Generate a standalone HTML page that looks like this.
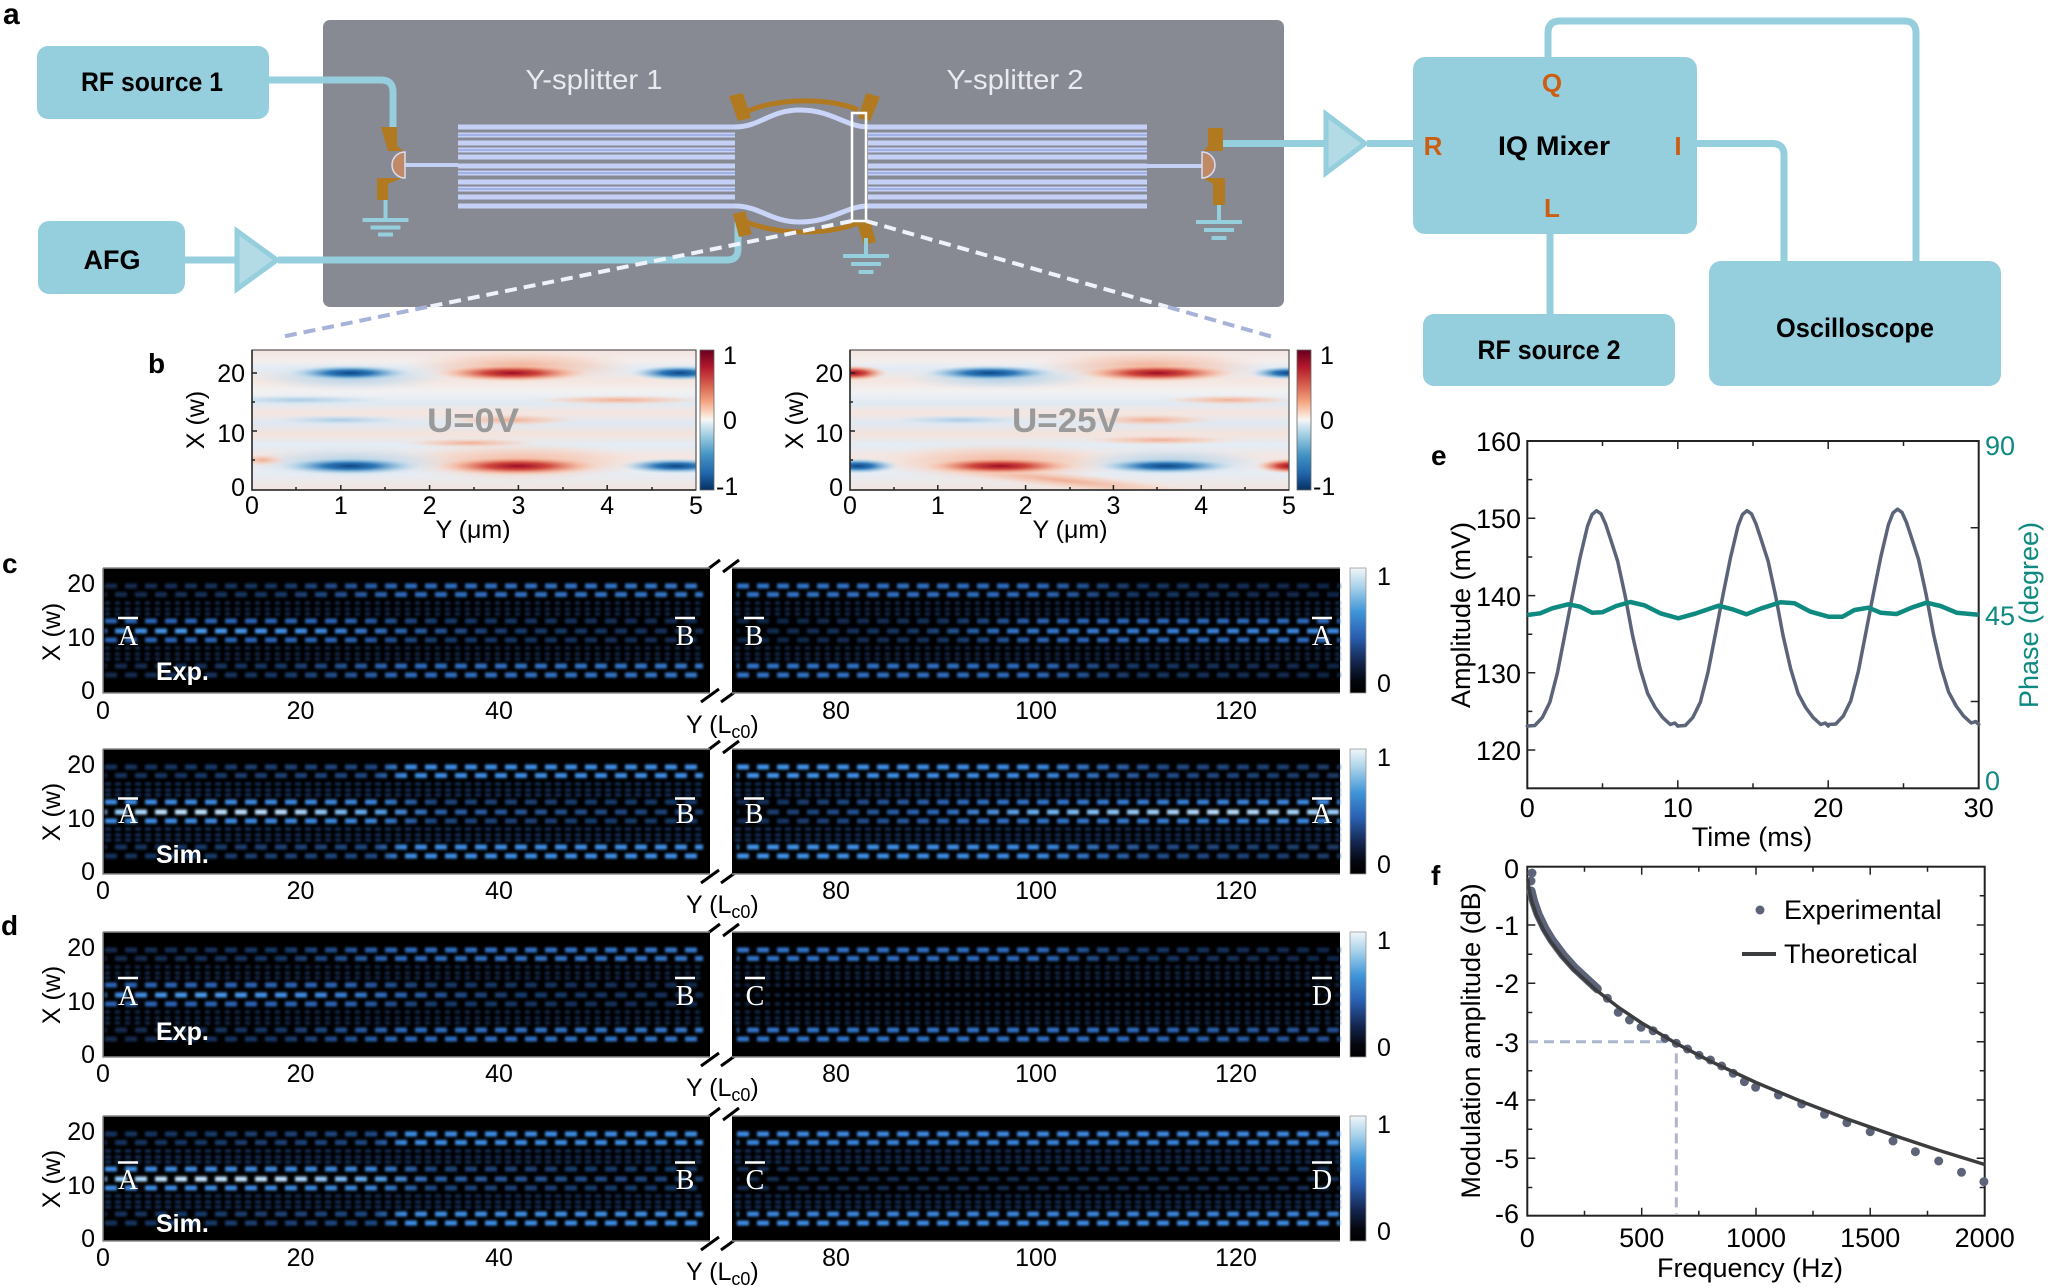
<!DOCTYPE html>
<html><head><meta charset="utf-8"><style>
html,body{margin:0;padding:0;background:#fff;overflow:hidden}
svg{display:block}
text{font-family:"Liberation Sans",sans-serif}
.ser text{font-family:"Liberation Serif",serif}
</style></head><body>
<svg xmlns="http://www.w3.org/2000/svg" xmlns:xlink="http://www.w3.org/1999/xlink" width="2048" height="1288" viewBox="0 0 2048 1288">
<defs>
<filter id="bl" x="-2%" y="-20%" width="104%" height="140%"><feGaussianBlur stdDeviation="1.3"/></filter>
<radialGradient id="rB"><stop offset="0" stop-color="#0d4587"/><stop offset="0.35" stop-color="#2f79b8"/><stop offset="0.7" stop-color="#9cc6e2" stop-opacity="0.7"/><stop offset="1" stop-color="#dbe8f3" stop-opacity="0"/></radialGradient>
<radialGradient id="rR"><stop offset="0" stop-color="#9e0a24"/><stop offset="0.35" stop-color="#d0493e"/><stop offset="0.7" stop-color="#f3b095" stop-opacity="0.7"/><stop offset="1" stop-color="#f8e0d5" stop-opacity="0"/></radialGradient>
<radialGradient id="rRl"><stop offset="0" stop-color="#f2ad92"/><stop offset="0.6" stop-color="#f6cdbb" stop-opacity="0.6"/><stop offset="1" stop-color="#f8e0d5" stop-opacity="0"/></radialGradient>
<radialGradient id="rBl"><stop offset="0" stop-color="#a9cbe5"/><stop offset="0.6" stop-color="#c9dded" stop-opacity="0.6"/><stop offset="1" stop-color="#dbe8f3" stop-opacity="0"/></radialGradient>
<linearGradient id="bgb" x1="0" y1="0" x2="0" y2="1">
<stop offset="0" stop-color="#f5e4de"/><stop offset="0.08" stop-color="#f3eeee"/><stop offset="0.13" stop-color="#e2ebf4"/><stop offset="0.22" stop-color="#f5e6e0"/><stop offset="0.3" stop-color="#f1f1f3"/><stop offset="0.38" stop-color="#e0eaf3"/><stop offset="0.45" stop-color="#f6e5df"/><stop offset="0.52" stop-color="#dfe9f3"/><stop offset="0.6" stop-color="#f5e3dc"/><stop offset="0.68" stop-color="#e3ecf5"/><stop offset="0.76" stop-color="#f4e6e1"/><stop offset="0.88" stop-color="#e6edf5"/><stop offset="1" stop-color="#f3e4de"/>
</linearGradient>
<linearGradient id="cbRB" x1="0" y1="0" x2="0" y2="1">
<stop offset="0" stop-color="#67001f"/><stop offset="0.12" stop-color="#b2182b"/><stop offset="0.25" stop-color="#d6604d"/><stop offset="0.37" stop-color="#f4a582"/><stop offset="0.47" stop-color="#fbe5d8"/><stop offset="0.5" stop-color="#f7f7f7"/><stop offset="0.53" stop-color="#dbeaf2"/><stop offset="0.63" stop-color="#92c5de"/><stop offset="0.75" stop-color="#4393c3"/><stop offset="0.88" stop-color="#2166ac"/><stop offset="1" stop-color="#053061"/>
</linearGradient>
<linearGradient id="cbBK" x1="0" y1="0" x2="0" y2="1">
<stop offset="0" stop-color="#f0f6f8"/><stop offset="0.15" stop-color="#a9d2ea"/><stop offset="0.35" stop-color="#3f95d8"/><stop offset="0.55" stop-color="#2a5fb0"/><stop offset="0.75" stop-color="#14264f"/><stop offset="0.9" stop-color="#05070f"/><stop offset="1" stop-color="#000"/>
</linearGradient>
<linearGradient id="gLc" gradientUnits="userSpaceOnUse" x1="105" y1="0" x2="703" y2="0"><stop offset="0" stop-color="#3a86dc"/><stop offset="0.15" stop-color="#4c9cf0"/><stop offset="0.35" stop-color="#3f8ce6"/><stop offset="0.5" stop-color="#2a63b0"/><stop offset="0.65" stop-color="#1a3f73"/><stop offset="1" stop-color="#142f58"/></linearGradient>
<linearGradient id="gLs" gradientUnits="userSpaceOnUse" x1="105" y1="0" x2="703" y2="0"><stop offset="0" stop-color="#2a64b5"/><stop offset="0.4" stop-color="#2a64b5"/><stop offset="0.55" stop-color="#193c6e"/><stop offset="1" stop-color="#112a50"/></linearGradient>
<linearGradient id="gLo" gradientUnits="userSpaceOnUse" x1="105" y1="0" x2="703" y2="0"><stop offset="0" stop-color="#12294d"/><stop offset="0.3" stop-color="#183a6a"/><stop offset="0.5" stop-color="#2e6cc0"/><stop offset="1" stop-color="#3579cc"/></linearGradient>
<linearGradient id="sLc" gradientUnits="userSpaceOnUse" x1="105" y1="0" x2="703" y2="0"><stop offset="0" stop-color="#8cc8ff"/><stop offset="0.1" stop-color="#c5e6ff"/><stop offset="0.3" stop-color="#bde0ff"/><stop offset="0.45" stop-color="#5aa6f0"/><stop offset="0.55" stop-color="#2c63ad"/><stop offset="1" stop-color="#1c3f73"/></linearGradient>
<linearGradient id="sLs" gradientUnits="userSpaceOnUse" x1="105" y1="0" x2="703" y2="0"><stop offset="0" stop-color="#3f8de6"/><stop offset="0.45" stop-color="#3a86dc"/><stop offset="0.55" stop-color="#1d4780"/><stop offset="1" stop-color="#163866"/></linearGradient>
<linearGradient id="sLo" gradientUnits="userSpaceOnUse" x1="105" y1="0" x2="703" y2="0"><stop offset="0" stop-color="#16325c"/><stop offset="0.45" stop-color="#1e4a86"/><stop offset="0.5" stop-color="#3e8ee6"/><stop offset="1" stop-color="#3f8fe8"/></linearGradient>
<linearGradient id="gRo" gradientUnits="userSpaceOnUse" x1="735" y1="0" x2="1340" y2="0"><stop offset="0" stop-color="#3476cc"/><stop offset="0.5" stop-color="#2e6cc0"/><stop offset="0.65" stop-color="#193a6a"/><stop offset="1" stop-color="#10264a"/></linearGradient>
<linearGradient id="gRc" gradientUnits="userSpaceOnUse" x1="735" y1="0" x2="1340" y2="0"><stop offset="0" stop-color="#10264a"/><stop offset="0.3" stop-color="#183a6a"/><stop offset="0.45" stop-color="#3176cc"/><stop offset="1" stop-color="#3f8ce6"/></linearGradient>
<linearGradient id="gRs" gradientUnits="userSpaceOnUse" x1="735" y1="0" x2="1340" y2="0"><stop offset="0" stop-color="#0f2444"/><stop offset="0.35" stop-color="#16345f"/><stop offset="0.5" stop-color="#2a64b5"/><stop offset="1" stop-color="#2e6cc0"/></linearGradient>
<linearGradient id="gRu" gradientUnits="userSpaceOnUse" x1="735" y1="0" x2="1340" y2="0"><stop offset="0" stop-color="#3476cc"/><stop offset="0.6" stop-color="#3070c4"/><stop offset="1" stop-color="#244f90"/></linearGradient>
<linearGradient id="sRo" gradientUnits="userSpaceOnUse" x1="735" y1="0" x2="1340" y2="0"><stop offset="0" stop-color="#4496ee"/><stop offset="0.5" stop-color="#3d8ce6"/><stop offset="0.7" stop-color="#234f8f"/><stop offset="1" stop-color="#1a3a66"/></linearGradient>
<linearGradient id="sRc" gradientUnits="userSpaceOnUse" x1="735" y1="0" x2="1340" y2="0"><stop offset="0" stop-color="#16325c"/><stop offset="0.35" stop-color="#2e6cc0"/><stop offset="0.5" stop-color="#6fb6fa"/><stop offset="0.8" stop-color="#c0e2ff"/><stop offset="1" stop-color="#9fd2ff"/></linearGradient>
<linearGradient id="sRs" gradientUnits="userSpaceOnUse" x1="735" y1="0" x2="1340" y2="0"><stop offset="0" stop-color="#12294d"/><stop offset="0.4" stop-color="#2f6ec4"/><stop offset="1" stop-color="#3f8ce6"/></linearGradient>
<clipPath id="cpL"><rect x="252" y="350" width="444" height="140"/></clipPath>
<clipPath id="cpR"><rect x="850" y="350" width="439" height="140"/></clipPath>
</defs>

<rect width="2048" height="1288" fill="#fff"/>

<!-- ================= PANEL A ================= -->
<text x="3" y="24" font-size="30" font-weight="bold">a</text>
<rect x="323" y="20" width="961" height="287" rx="7" fill="#878a92"/>
<g fill="#95cedd">
<rect x="37" y="46" width="232" height="73" rx="11"/>
<rect x="38" y="221" width="147" height="73" rx="11"/>
<rect x="1413" y="57" width="284" height="177" rx="12"/>
<rect x="1423" y="314" width="252" height="72" rx="11"/>
<rect x="1709" y="261" width="292" height="125" rx="12"/>
</g>
<g font-weight="bold" font-size="27" fill="#000" text-anchor="middle">
<text x="152" y="91" textLength="142" lengthAdjust="spacingAndGlyphs">RF source 1</text>
<text x="112" y="269">AFG</text>
<text x="1554" y="155" textLength="112" lengthAdjust="spacingAndGlyphs">IQ Mixer</text>
<text x="1549" y="359" textLength="143" lengthAdjust="spacingAndGlyphs">RF source 2</text>
<text x="1855" y="337" textLength="158" lengthAdjust="spacingAndGlyphs">Oscilloscope</text>
</g>
<g font-weight="bold" font-size="26" fill="#cc5e14" text-anchor="middle">
<text x="1552" y="92">Q</text>
<text x="1433" y="155">R</text>
<text x="1678" y="155">I</text>
<text x="1552" y="217">L</text>
</g>
<g fill="none" stroke="#95cedd" stroke-width="7">
<path d="M269,80 H381 Q393,80 393,92 V135"/>
<path d="M185,260 H236"/>
<path d="M278,260 H727 Q738,260 738,249 V222"/>
<path d="M1222,143.5 H1325"/>
<path d="M1367,143.5 H1414"/>
<path d="M1548,57 V33 Q1548,21 1560,21 H1904 Q1916,21 1916,33 V261"/>
<path d="M1697,143.5 H1772 Q1784,143.5 1784,155 V261"/>
<path d="M1550,234 V314"/>
</g>
<polygon points="237,231 237,289 277,260" fill="#b3dbe6" stroke="#95cedd" stroke-width="5"/>
<polygon points="1326,114 1326,173 1365,143.5" fill="#b3dbe6" stroke="#95cedd" stroke-width="5"/>
<g font-size="28" fill="#e9ebf0" text-anchor="middle">
<text x="594" y="89" textLength="137" lengthAdjust="spacingAndGlyphs">Y-splitter 1</text>
<text x="1015" y="89" textLength="137" lengthAdjust="spacingAndGlyphs">Y-splitter 2</text>
</g>
<g stroke="#c4d0f6" stroke-width="5" fill="none">
<path d="M458,127 H735 M458,135 H735 M458,143 H735 M458,150 H735 M458,157 H735 M458,166 H735 M458,173 H735 M458,182 H735 M458,189 H735 M458,197 H735 M458,206 H735"/>
<path d="M868,127 H1147 M868,135 H1147 M868,143 H1147 M868,150 H1147 M868,157 H1147 M868,166 H1147 M868,173 H1147 M868,182 H1147 M868,189 H1147 M868,197 H1147 M868,206 H1147"/>
<path d="M400,165 H458 M1147,166 H1205" stroke-width="4"/>
</g>
<g stroke="#7f92d8" stroke-width="1.3" fill="none" opacity="0.8">
<path d="M458,135 H735 M458,150 H735 M458,173 H735 M458,189 H735 M868,135 H1147 M868,150 H1147 M868,173 H1147 M868,189 H1147"/>
</g>
<g fill="none" stroke="#b27a20" stroke-width="5">
<path d="M746,112 C775,98 830,97 858,110"/>
<path d="M744,221 C775,235 830,236 860,222"/>
</g>
<g fill="#b27a20">
<polygon points="729,96 743,93 751,118 738,121"/>
<polygon points="858,118 866,93 880,97 870,121"/>
<polygon points="733,214 745,211 752,234 739,237"/>
<polygon points="857,224 870,220 876,242 864,245"/>
</g>
<g fill="none" stroke="#c9d4f8" stroke-width="5">
<path d="M735,127 C760,127 770,110 800,110 C832,110 846,127 868,127"/>
<path d="M735,206 C760,206 770,222 800,222 C832,222 846,206 868,206"/>
</g>
<rect x="852" y="113" width="14" height="108" fill="none" stroke="#fff" stroke-width="2.5"/>
<g fill="#b27a20">
<path d="M381,127 H397 V146 L404,151 H388 Z"/>
<path d="M377,178 H402 L388,184 V200 H377 Z"/>
<path d="M1208,128 H1223 V151 H1203 L1208,146 Z"/>
<path d="M1203,178 H1225 V205 H1213 V184 Z"/>
</g>
<path d="M405,152 A13,13 0 0,0 405,178 Z" fill="#c08a66" stroke="#dcdcf2" stroke-width="1.5"/>
<path d="M1202,152 A13,13 0 0,1 1202,178 Z" fill="#c08a66" stroke="#dcdcf2" stroke-width="1.5"/>
<g stroke="#95cedd" stroke-width="4" fill="none">
<path d="M385.5,200 V220 M362.5,220 H408.5 M370.5,227.5 H400.5 M378,234.5 H393"/>
<path d="M866,238 V256 M843,256 H889 M851,264 H881 M858.5,272 H873.5"/>
<path d="M1219,205 V222 M1196,222 H1242 M1204,230 H1234 M1211.5,238 H1226.5"/>
</g>
<g fill="none" stroke-width="4" stroke-dasharray="12 7">
<path d="M852,221 L427,307" stroke="#eef2fb"/>
<path d="M866,221 L1168,307" stroke="#eef2fb"/>
<path d="M427,307 L281,337" stroke="#a6b2d8"/>
<path d="M1168,307 L1273,337" stroke="#a6b2d8"/>
</g>

<!-- ================= PANEL B ================= -->
<text x="148" y="373" font-size="28" font-weight="bold">b</text>
<g clip-path="url(#cpL)">
<rect x="252" y="350" width="444" height="140" fill="url(#bgb)"/>
<ellipse cx="520" cy="366" rx="120" ry="17" fill="url(#rRl)"/>
<ellipse cx="520" cy="462" rx="130" ry="20" fill="url(#rRl)"/>
<ellipse cx="350" cy="462" rx="110" ry="16" fill="url(#rBl)"/>
<ellipse cx="350" cy="377" rx="100" ry="14" fill="url(#rBl)"/>
<ellipse cx="510" cy="420" rx="70" ry="6" fill="url(#rRl)"/>
<ellipse cx="340" cy="420" rx="70" ry="5" fill="url(#rBl)"/>
<ellipse cx="470" cy="443" rx="70" ry="5" fill="url(#rRl)"/>
<ellipse cx="300" cy="400" rx="90" ry="5" fill="url(#rBl)"/>
<ellipse cx="620" cy="400" rx="90" ry="5" fill="url(#rRl)"/>
<ellipse cx="350" cy="373" rx="64" ry="8" fill="url(#rB)"/>
<ellipse cx="512" cy="373" rx="80" ry="9" fill="url(#rR)"/>
<ellipse cx="680" cy="373" rx="52" ry="8" fill="url(#rB)"/>
<ellipse cx="350" cy="466" rx="74" ry="9" fill="url(#rB)"/>
<ellipse cx="518" cy="466" rx="88" ry="10" fill="url(#rR)"/>
<ellipse cx="676" cy="466" rx="58" ry="8" fill="url(#rB)"/>
<ellipse cx="262" cy="460" rx="25" ry="6" fill="url(#rRl)"/>
</g>
<g clip-path="url(#cpR)">
<rect x="850" y="350" width="439" height="140" fill="url(#bgb)"/>
<ellipse cx="1150" cy="366" rx="120" ry="17" fill="url(#rRl)"/>
<ellipse cx="1000" cy="462" rx="130" ry="20" fill="url(#rRl)"/>
<ellipse cx="1170" cy="462" rx="100" ry="15" fill="url(#rBl)"/>
<ellipse cx="1000" cy="378" rx="100" ry="12" fill="url(#rBl)"/>
<ellipse cx="1150" cy="420" rx="70" ry="6" fill="url(#rRl)"/>
<ellipse cx="960" cy="420" rx="70" ry="5" fill="url(#rBl)"/>
<ellipse cx="1160" cy="440" rx="80" ry="5" fill="url(#rRl)"/>
<ellipse cx="1060" cy="480" rx="170" ry="9" fill="url(#rRl)" transform="rotate(6 1060 480)"/>
<ellipse cx="1230" cy="400" rx="70" ry="5" fill="url(#rRl)"/>
<ellipse cx="853" cy="373" rx="36" ry="8" fill="url(#rR)"/>
<ellipse cx="990" cy="373" rx="70" ry="8" fill="url(#rB)"/>
<ellipse cx="1157" cy="373" rx="82" ry="9" fill="url(#rR)"/>
<ellipse cx="1288" cy="373" rx="40" ry="7" fill="url(#rB)"/>
<ellipse cx="858" cy="466" rx="42" ry="8" fill="url(#rB)"/>
<ellipse cx="1000" cy="466" rx="82" ry="9" fill="url(#rR)"/>
<ellipse cx="1166" cy="466" rx="72" ry="8" fill="url(#rB)"/>
<ellipse cx="1290" cy="466" rx="36" ry="8" fill="url(#rR)"/>
</g>
<g fill="none" stroke="#555" stroke-width="1.2">
<rect x="252" y="350" width="444" height="140"/>
<rect x="850" y="350" width="439" height="140"/>
</g>
<g stroke="#222" stroke-width="1.5" fill="none">
<path d="M252,350 V490 H696"/>
<path d="M850,350 V490 H1289"/>
<path d="M340.8,490 v-5 M429.6,490 v-5 M518.4,490 v-5 M607.2,490 v-5 M296,490 v-3 M385,490 v-3 M474,490 v-3 M563,490 v-3 M652,490 v-3"/>
<path d="M937.8,490 v-5 M1025.6,490 v-5 M1113.4,490 v-5 M1201.2,490 v-5 M894,490 v-3 M982,490 v-3 M1070,490 v-3 M1157,490 v-3 M1245,490 v-3"/>
<path d="M252,373 h5 M252,431 h5 M252,402 h3 M252,460 h3 M850,373 h5 M850,431 h5 M850,402 h3 M850,460 h3"/>
</g>
<rect x="700" y="350" width="14" height="140" fill="url(#cbRB)" stroke="#666" stroke-width="0.8"/>
<rect x="1297" y="350" width="14" height="140" fill="url(#cbRB)" stroke="#666" stroke-width="0.8"/>
<g font-size="25" fill="#000">
<text x="723" y="364">1</text><text x="723" y="429">0</text><text x="716" y="495">-1</text>
<text x="1320" y="364">1</text><text x="1320" y="429">0</text><text x="1313" y="495">-1</text>
</g>
<g font-size="25" text-anchor="middle">
<text x="252" y="514">0</text><text x="340.8" y="514">1</text><text x="429.6" y="514">2</text><text x="518.4" y="514">3</text><text x="607.2" y="514">4</text><text x="696" y="514">5</text>
<text x="850" y="514">0</text><text x="937.8" y="514">1</text><text x="1025.6" y="514">2</text><text x="1113.4" y="514">3</text><text x="1201.2" y="514">4</text><text x="1289" y="514">5</text>
<text x="473" y="538">Y (μm)</text><text x="1070" y="538">Y (μm)</text>
</g>
<g font-size="25" text-anchor="end">
<text x="245" y="382">20</text><text x="245" y="442">10</text><text x="245" y="496">0</text>
<text x="843" y="382">20</text><text x="843" y="442">10</text><text x="843" y="496">0</text>
</g>
<text transform="translate(204,420) rotate(-90)" font-size="25" text-anchor="middle">X (w)</text>
<text transform="translate(803,420) rotate(-90)" font-size="25" text-anchor="middle">X (w)</text>
<g font-size="34" font-weight="bold" fill="#9a9a9a" text-anchor="middle">
<text x="473" y="432" textLength="92" lengthAdjust="spacingAndGlyphs">U=0V</text>
<text x="1066" y="432" textLength="108" lengthAdjust="spacingAndGlyphs">U=25V</text>
</g>

<!-- ================= PANELS C / D ================= -->
<text x="2" y="573" font-size="28" font-weight="bold">c</text>
<text x="1" y="935" font-size="28" font-weight="bold">d</text>

<g fill="#000">
<rect x="103" y="568" width="607" height="125"/><rect x="732" y="568" width="608" height="125"/>
<rect x="103" y="749" width="607" height="125"/><rect x="732" y="749" width="608" height="125"/>
<rect x="103" y="932" width="607" height="125"/><rect x="732" y="932" width="608" height="125"/>
<rect x="103" y="1116" width="607" height="125"/><rect x="732" y="1116" width="608" height="125"/>
</g>

<!-- c exp -->
<g filter="url(#bl)" stroke-width="5" stroke-dasharray="12 8" fill="none">
<g stroke="#152e54" stroke-width="3" stroke-dasharray="5 5">
<path d="M105,603 H703 M105,609 H703 M105,614 H703 M105,648 H703 M105,654 H703 M105,659 H703"/>
<path d="M735,603 H1340 M735,609 H1340 M735,614 H1340 M735,648 H1340 M735,654 H1340 M735,659 H1340"/>
</g>
<path d="M105,586 H703" stroke="url(#gLo)"/>
<path d="M105,594.5 H703" stroke="url(#gLo)" stroke-dashoffset="10"/>
<path d="M105,621 H703" stroke="url(#gLs)"/>
<path d="M105,631 H703" stroke="url(#gLc)" stroke-dashoffset="10"/>
<path d="M105,640 H703" stroke="url(#gLs)"/>
<path d="M105,666 H703" stroke="url(#gLo)" stroke-dashoffset="10"/>
<path d="M105,675 H703" stroke="url(#gLo)"/>
<path d="M737,586 H1340" stroke="url(#gRo)"/>
<path d="M737,594.5 H1340" stroke="url(#gRo)" stroke-dashoffset="10"/>
<path d="M737,621 H1340" stroke="url(#gRs)"/>
<path d="M737,631 H1340" stroke="url(#gRc)" stroke-dashoffset="10"/>
<path d="M737,640 H1340" stroke="url(#gRs)"/>
<path d="M737,666 H1340" stroke="url(#gRo)" stroke-dashoffset="10"/>
<path d="M737,675 H1340" stroke="url(#gRo)"/>
</g>
<!-- c sim -->
<g filter="url(#bl)" stroke-width="5" stroke-dasharray="12 8" fill="none">
<g stroke="#18335e" stroke-width="3" stroke-dasharray="6 4">
<path d="M105,784 H703 M105,790 H703 M105,795 H703 M105,829 H703 M105,835 H703 M105,840 H703"/>
<path d="M735,784 H1340 M735,790 H1340 M735,795 H1340 M735,829 H1340 M735,835 H1340 M735,840 H1340"/>
</g>
<path d="M105,767 H703" stroke="url(#sLo)"/>
<path d="M105,775.5 H703" stroke="url(#sLo)" stroke-dashoffset="10"/>
<path d="M105,802 H703" stroke="url(#sLs)"/>
<path d="M105,812 H703" stroke="url(#sLc)" stroke-dashoffset="10"/>
<path d="M105,821 H703" stroke="url(#sLs)"/>
<path d="M105,847 H703" stroke="url(#sLo)" stroke-dashoffset="10"/>
<path d="M105,856 H703" stroke="url(#sLo)"/>
<path d="M737,767 H1340" stroke="url(#sRo)"/>
<path d="M737,775.5 H1340" stroke="url(#sRo)" stroke-dashoffset="10"/>
<path d="M737,802 H1340" stroke="url(#sRs)"/>
<path d="M737,812 H1340" stroke="url(#sRc)" stroke-dashoffset="10"/>
<path d="M737,821 H1340" stroke="url(#sRs)"/>
<path d="M737,847 H1340" stroke="url(#sRo)" stroke-dashoffset="10"/>
<path d="M737,856 H1340" stroke="url(#sRo)"/>
</g>
<!-- d exp -->
<g filter="url(#bl)" stroke-width="5" stroke-dasharray="12 8" fill="none">
<g stroke="#152e54" stroke-width="3" stroke-dasharray="5 5">
<path d="M105,967 H703 M105,973 H703 M105,978 H703 M105,1012 H703 M105,1018 H703 M105,1023 H703"/>
<path d="M735,967 H1340 M735,973 H1340 M735,978 H1340 M735,985 H1340 M735,995 H1340 M735,1004 H1340 M735,1012 H1340 M735,1018 H1340 M735,1023 H1340"/>
</g>
<path d="M105,950 H703" stroke="url(#gLo)"/>
<path d="M105,958.5 H703" stroke="url(#gLo)" stroke-dashoffset="10"/>
<path d="M105,985 H703" stroke="url(#gLs)"/>
<path d="M105,995 H703" stroke="url(#gLc)" stroke-dashoffset="10"/>
<path d="M105,1004 H703" stroke="url(#gLs)"/>
<path d="M105,1030 H703" stroke="url(#gLo)" stroke-dashoffset="10"/>
<path d="M105,1039 H703" stroke="url(#gLo)"/>
<path d="M737,950 H1340" stroke="url(#gRo)"/>
<path d="M737,958.5 H1340" stroke="url(#gRo)" stroke-dashoffset="10"/>
<path d="M737,1030 H1340" stroke="url(#gRu)" stroke-dashoffset="10"/>
<path d="M737,1039 H1340" stroke="url(#gRu)"/>
</g>
<!-- d sim -->
<g filter="url(#bl)" stroke-width="5" stroke-dasharray="12 8" fill="none">
<g stroke="#18335e" stroke-width="3" stroke-dasharray="6 4">
<path d="M105,1151 H703 M105,1157 H703 M105,1162 H703 M105,1196 H703 M105,1202 H703 M105,1207 H703"/>
<path d="M735,1151 H1340 M735,1157 H1340 M735,1162 H1340 M735,1196 H1340 M735,1202 H1340 M735,1207 H1340"/>
</g>
<g stroke="#17305a" stroke-width="4"><path d="M737,1169 H1340 M737,1188 H1340"/><path d="M737,1179 H1340" stroke-dashoffset="10"/></g>
<path d="M105,1134 H703" stroke="url(#sLo)"/>
<path d="M105,1142.5 H703" stroke="url(#sLo)" stroke-dashoffset="10"/>
<path d="M105,1169 H703" stroke="url(#sLs)"/>
<path d="M105,1179 H703" stroke="url(#sLc)" stroke-dashoffset="10"/>
<path d="M105,1188 H703" stroke="url(#sLs)"/>
<path d="M105,1214 H703" stroke="url(#sLo)" stroke-dashoffset="10"/>
<path d="M105,1223 H703" stroke="url(#sLo)"/>
<path d="M737,1134 H1340" stroke="#3f8ce6"/>
<path d="M737,1142.5 H1340" stroke="#3a86e0" stroke-dashoffset="10"/>
<path d="M737,1214 H1340" stroke="#3a86e0" stroke-dashoffset="10"/>
<path d="M737,1223 H1340" stroke="#3f8ce6"/>
</g>

<g stroke="#000" stroke-width="3" fill="none">
<path d="M704,572 L720,560 M723,572 L739,560 M701,702 L719,689 M721,702 L739,689"/>
<path d="M704,753 L720,741 M723,753 L739,741 M701,883 L719,870 M721,883 L739,870"/>
<path d="M704,936 L720,924 M723,936 L739,924 M701,1066 L719,1053 M721,1066 L739,1053"/>
<path d="M704,1120 L720,1108 M723,1120 L739,1108 M701,1250 L719,1237 M721,1250 L739,1237"/>
</g>
<g stroke="#8a8a8a" stroke-width="1.5" fill="none">
<path d="M103,568 V693 H710 M732,693 H1340 M103,568 H710 M732,568 H1340"/>
<path d="M103,749 V874 H710 M732,874 H1340 M103,749 H710 M732,749 H1340"/>
<path d="M103,932 V1057 H710 M732,1057 H1340 M103,932 H710 M732,932 H1340"/>
<path d="M103,1116 V1241 H710 M732,1241 H1340 M103,1116 H710 M732,1116 H1340"/>
</g>
<g stroke="#999" stroke-width="0.8">
<rect x="1350" y="568" width="16" height="125" fill="url(#cbBK)"/>
<rect x="1350" y="749" width="16" height="125" fill="url(#cbBK)"/>
<rect x="1350" y="932" width="16" height="125" fill="url(#cbBK)"/>
<rect x="1350" y="1116" width="16" height="125" fill="url(#cbBK)"/>
</g>
<g font-size="25">
<text x="1377" y="585">1</text><text x="1377" y="692">0</text>
<text x="1377" y="766">1</text><text x="1377" y="873">0</text>
<text x="1377" y="949">1</text><text x="1377" y="1056">0</text>
<text x="1377" y="1133">1</text><text x="1377" y="1240">0</text>
</g>
<g font-size="25" text-anchor="end">
<text x="95" y="592">20</text><text x="95" y="646">10</text><text x="95" y="699">0</text>
<text x="95" y="773">20</text><text x="95" y="827">10</text><text x="95" y="880">0</text>
<text x="95" y="956">20</text><text x="95" y="1010">10</text><text x="95" y="1063">0</text>
<text x="95" y="1140">20</text><text x="95" y="1194">10</text><text x="95" y="1247">0</text>
</g>
<g font-size="25" text-anchor="middle">
<text x="103" y="719">0</text><text x="300.5" y="719">20</text><text x="499" y="719">40</text><text x="836" y="719">80</text><text x="1036" y="719">100</text><text x="1236" y="719">120</text>
<text x="103" y="899">0</text><text x="300.5" y="899">20</text><text x="499" y="899">40</text><text x="836" y="899">80</text><text x="1036" y="899">100</text><text x="1236" y="899">120</text>
<text x="103" y="1082">0</text><text x="300.5" y="1082">20</text><text x="499" y="1082">40</text><text x="836" y="1082">80</text><text x="1036" y="1082">100</text><text x="1236" y="1082">120</text>
<text x="103" y="1266">0</text><text x="300.5" y="1266">20</text><text x="499" y="1266">40</text><text x="836" y="1266">80</text><text x="1036" y="1266">100</text><text x="1236" y="1266">120</text>
</g>
<g font-size="25">
<text x="686" y="733">Y (L<tspan font-size="18" dy="5">c0</tspan><tspan dy="-5">)</tspan></text>
<text x="686" y="913">Y (L<tspan font-size="18" dy="5">c0</tspan><tspan dy="-5">)</tspan></text>
<text x="686" y="1096">Y (L<tspan font-size="18" dy="5">c0</tspan><tspan dy="-5">)</tspan></text>
<text x="686" y="1280">Y (L<tspan font-size="18" dy="5">c0</tspan><tspan dy="-5">)</tspan></text>
</g>
<g font-size="25" text-anchor="middle">
<text transform="translate(60,632) rotate(-90)">X (w)</text>
<text transform="translate(60,812) rotate(-90)">X (w)</text>
<text transform="translate(60,995) rotate(-90)">X (w)</text>
<text transform="translate(60,1179) rotate(-90)">X (w)</text>
</g>
<g font-size="25" font-weight="bold" fill="#fff">
<text x="156" y="680">Exp.</text>
<text x="156" y="863">Sim.</text>
<text x="156" y="1040">Exp.</text>
<text x="156" y="1232">Sim.</text>
</g>
<g class="ser" font-size="28" fill="#fff" text-anchor="middle">
<text x="128" y="645">A</text><text x="685" y="645">B</text><text x="754" y="645">B</text><text x="1322" y="645">A</text>
<text x="128" y="823">A</text><text x="685" y="823">B</text><text x="754" y="823">B</text><text x="1322" y="823">A</text>
<text x="128" y="1005">A</text><text x="685" y="1005">B</text><text x="755" y="1005">C</text><text x="1322" y="1005">D</text>
<text x="128" y="1189">A</text><text x="685" y="1189">B</text><text x="755" y="1189">C</text><text x="1322" y="1189">D</text>
</g>
<g stroke="#fff" stroke-width="2.5">
<path d="M118,618 h20 M675,618 h20 M744,618 h20 M1312,618 h20"/>
<path d="M118,798.5 h20 M675,798.5 h20 M744,798.5 h20 M1312,798.5 h20"/>
<path d="M118,978 h20 M675,978 h20 M745,978 h20 M1312,978 h20"/>
<path d="M118,1162.5 h20 M675,1162.5 h20 M745,1162.5 h20 M1312,1162.5 h20"/>
</g>

<!-- ================= PANEL E ================= -->
<text x="1431" y="465" font-size="28" font-weight="bold">e</text>
<rect x="1527.3" y="441" width="451.4" height="347.3" fill="none" stroke="#222" stroke-width="2"/>
<g stroke="#222" stroke-width="1.5" fill="none">
<path d="M1677.8,788.3 v-8 M1828.2,788.3 v-8 M1602.5,788.3 v-5 M1753,788.3 v-5 M1903.5,788.3 v-5"/>
<path d="M1677.8,441 v8 M1828.2,441 v8 M1602.5,441 v5 M1753,441 v5 M1903.5,441 v5"/>
<path d="M1527.3,518.3 h8 M1527.3,595.6 h8 M1527.3,672.8 h8 M1527.3,750 h8 M1527.3,479.6 h5 M1527.3,557 h5 M1527.3,634.2 h5 M1527.3,711.4 h5"/>
<path d="M1978.7,527.8 h-8 M1978.7,614.6 h-8 M1978.7,701.5 h-8"/>
</g>
<g font-size="27" text-anchor="end">
<text x="1521" y="451">160</text><text x="1521" y="528">150</text><text x="1521" y="606">140</text><text x="1521" y="683">130</text><text x="1521" y="760">120</text>
</g>
<g font-size="27" text-anchor="middle">
<text x="1527.3" y="817">0</text><text x="1677.8" y="817">10</text><text x="1828.2" y="817">20</text><text x="1978.7" y="817">30</text>
<text x="1752" y="846">Time (ms)</text>
</g>
<g font-size="27" fill="#0f8a80">
<text x="1985" y="455">90</text><text x="1985" y="625">45</text><text x="1985" y="790">0</text>
<text transform="translate(2038,615) rotate(-90)" text-anchor="middle">Phase (degree)</text>
</g>
<text transform="translate(1470,615) rotate(-90)" font-size="27" text-anchor="middle">Amplitude (mV)</text>
<g fill="none" stroke="#5b6478" stroke-width="3.5" stroke-linejoin="round" stroke-linecap="round">
<path id="amp" d="M1527.3,726 L1534.8,725.5 L1542.3,717.6 L1549.9,702.1 L1557.4,672.8 L1564.9,634.2 L1572.4,595.6 L1580,557.8 L1587.5,526.1 L1592,514.5 L1596.5,510.7 L1601,513.8 L1605.5,523.8 L1610.1,537.7 L1617.6,560.9 L1625.1,595.6 L1632.6,635.7 L1640.2,668.9 L1647.7,693.6 L1655.2,707.5 L1662.7,717.6 L1670.3,724.5 L1674.8,723 L1677.8,726"/>
<use xlink:href="#amp" href="#amp" transform="translate(150.47,0)"/>
<use xlink:href="#amp" href="#amp" transform="translate(300.94,-1.5)"/>
</g>
<polyline fill="none" stroke="#0f8a80" stroke-width="4.5" stroke-linejoin="round" points="1527.3,615 1540.2,613.3 1552.2,608.3 1568.2,604.3 1580.2,606.7 1592.2,612.7 1602.2,612.3 1616.2,606 1630.3,602 1644.3,605.3 1660.3,613.3 1678.3,618.3 1696.3,613.3 1718.4,605.7 1732.4,609.3 1746.4,614.3 1760.4,608.7 1780.4,602.3 1794.5,603.3 1810.5,611.7 1828.5,616.7 1842.5,616.7 1854.5,610 1868.5,607.7 1880.6,612.7 1896.6,614 1912.6,607.3 1926.6,602.7 1940.6,606 1956.6,612.7 1978.7,614.7"/>

<!-- ================= PANEL F ================= -->
<text x="1431" y="885" font-size="28" font-weight="bold">f</text>
<rect x="1527.3" y="866.7" width="457.4" height="349" fill="none" stroke="#222" stroke-width="2"/>
<g stroke="#222" stroke-width="1.5" fill="none">
<path d="M1641.7,1215.7 v-8 M1756,1215.7 v-8 M1870.2,1215.7 v-8 M1584.5,1215.7 v-5 M1698.8,1215.7 v-5 M1813,1215.7 v-5 M1927.5,1215.7 v-5"/>
<path d="M1641.7,866.7 v8 M1756,866.7 v8 M1870.2,866.7 v8 M1584.5,866.7 v5 M1698.8,866.7 v5 M1813,866.7 v5 M1927.5,866.7 v5"/>
<path d="M1527.3,925 h8 M1527.3,983.3 h8 M1527.3,1041.7 h8 M1527.3,1100 h8 M1527.3,1158.3 h8 M1527.3,895.8 h5 M1527.3,954.2 h5 M1527.3,1012.5 h5 M1527.3,1070.8 h5 M1527.3,1129.2 h5 M1527.3,1187.5 h5"/>
<path d="M1984.7,925 h-8 M1984.7,983.3 h-8 M1984.7,1041.7 h-8 M1984.7,1100 h-8 M1984.7,1158.3 h-8 M1984.7,895.8 h-5 M1984.7,954.2 h-5 M1984.7,1012.5 h-5 M1984.7,1070.8 h-5 M1984.7,1129.2 h-5 M1984.7,1187.5 h-5"/>
</g>
<path d="M1528,1041.7 H1676.3 V1215" fill="none" stroke="#aab6cc" stroke-width="3" stroke-dasharray="10 6"/>
<g font-size="27" text-anchor="end">
<text x="1519" y="878">0</text><text x="1519" y="935">-1</text><text x="1519" y="993">-2</text><text x="1519" y="1052">-3</text><text x="1519" y="1110">-4</text><text x="1519" y="1168">-5</text><text x="1519" y="1223">-6</text>
</g>
<g font-size="27" text-anchor="middle">
<text x="1527.3" y="1247">0</text><text x="1641.7" y="1247">500</text><text x="1756" y="1247">1000</text><text x="1870.2" y="1247">1500</text><text x="1984.7" y="1247">2000</text>
<text x="1750" y="1277">Frequency (Hz)</text>
</g>
<text transform="translate(1480,1041) rotate(-90)" font-size="27" text-anchor="middle">Modulation amplitude (dB)</text>
<path d="M1531.1,891 L1533.4,900.7 L1538,914 L1544.8,928.3 L1551.7,939.7 L1563.1,955 L1574.5,967.8 L1597.4,988.9" fill="none" stroke="#5d6479" stroke-width="9" stroke-linecap="round" stroke-linejoin="round"/>
<g fill="#5d6479">
<circle cx="1532" cy="873" r="4.5"/><circle cx="1531" cy="881" r="4.5"/>
<circle cx="1607.4" cy="998.3" r="4.5"/><circle cx="1618.2" cy="1012.3" r="4.5"/><circle cx="1629.5" cy="1020" r="4.5"/><circle cx="1641.1" cy="1027.3" r="4.5"/><circle cx="1653.1" cy="1030.7" r="4.5"/><circle cx="1665.1" cy="1038.3" r="4.5"/><circle cx="1676.3" cy="1043.3" r="4.5"/><circle cx="1687.5" cy="1049" r="4.5"/><circle cx="1699.1" cy="1055.3" r="4.5"/><circle cx="1710.4" cy="1060" r="4.5"/><circle cx="1721.6" cy="1066" r="4.5"/><circle cx="1733.2" cy="1073.3" r="4.5"/><circle cx="1744.4" cy="1081.7" r="4.5"/><circle cx="1755.6" cy="1087.3" r="4.5"/><circle cx="1778.4" cy="1095" r="4.5"/><circle cx="1801.7" cy="1104" r="4.5"/><circle cx="1824.5" cy="1114.3" r="4.5"/><circle cx="1846.9" cy="1122.7" r="4.5"/><circle cx="1870.2" cy="1131.7" r="4.5"/><circle cx="1893" cy="1141" r="4.5"/><circle cx="1915.4" cy="1151.7" r="4.5"/><circle cx="1938.7" cy="1161" r="4.5"/><circle cx="1961.5" cy="1172.3" r="4.5"/><circle cx="1983.9" cy="1181.7" r="4.5"/>
</g>
<polyline fill="none" stroke="#3c3d3f" stroke-width="3.5" stroke-linejoin="round" points="1527.8,878.7 1528.4,885.1 1529.6,892 1531.9,901.7 1536.5,915 1543.3,929.3 1550.2,940.7 1561.6,956 1573,968.8 1595.9,989.9 1618.8,1007.6 1641.7,1023 1676,1043.3 1710.3,1061.2 1756,1082.5 1801.8,1101.6 1847.5,1119.1 1893.3,1135.2 1939,1150.4 1984.7,1164.5"/>
<circle cx="1760" cy="910" r="4.5" fill="#5d6479"/>
<text x="1784" y="919" font-size="27">Experimental</text>
<path d="M1742,954 H1776" stroke="#3c3d3f" stroke-width="4"/>
<text x="1784" y="963" font-size="27">Theoretical</text>
</svg>
</body></html>
